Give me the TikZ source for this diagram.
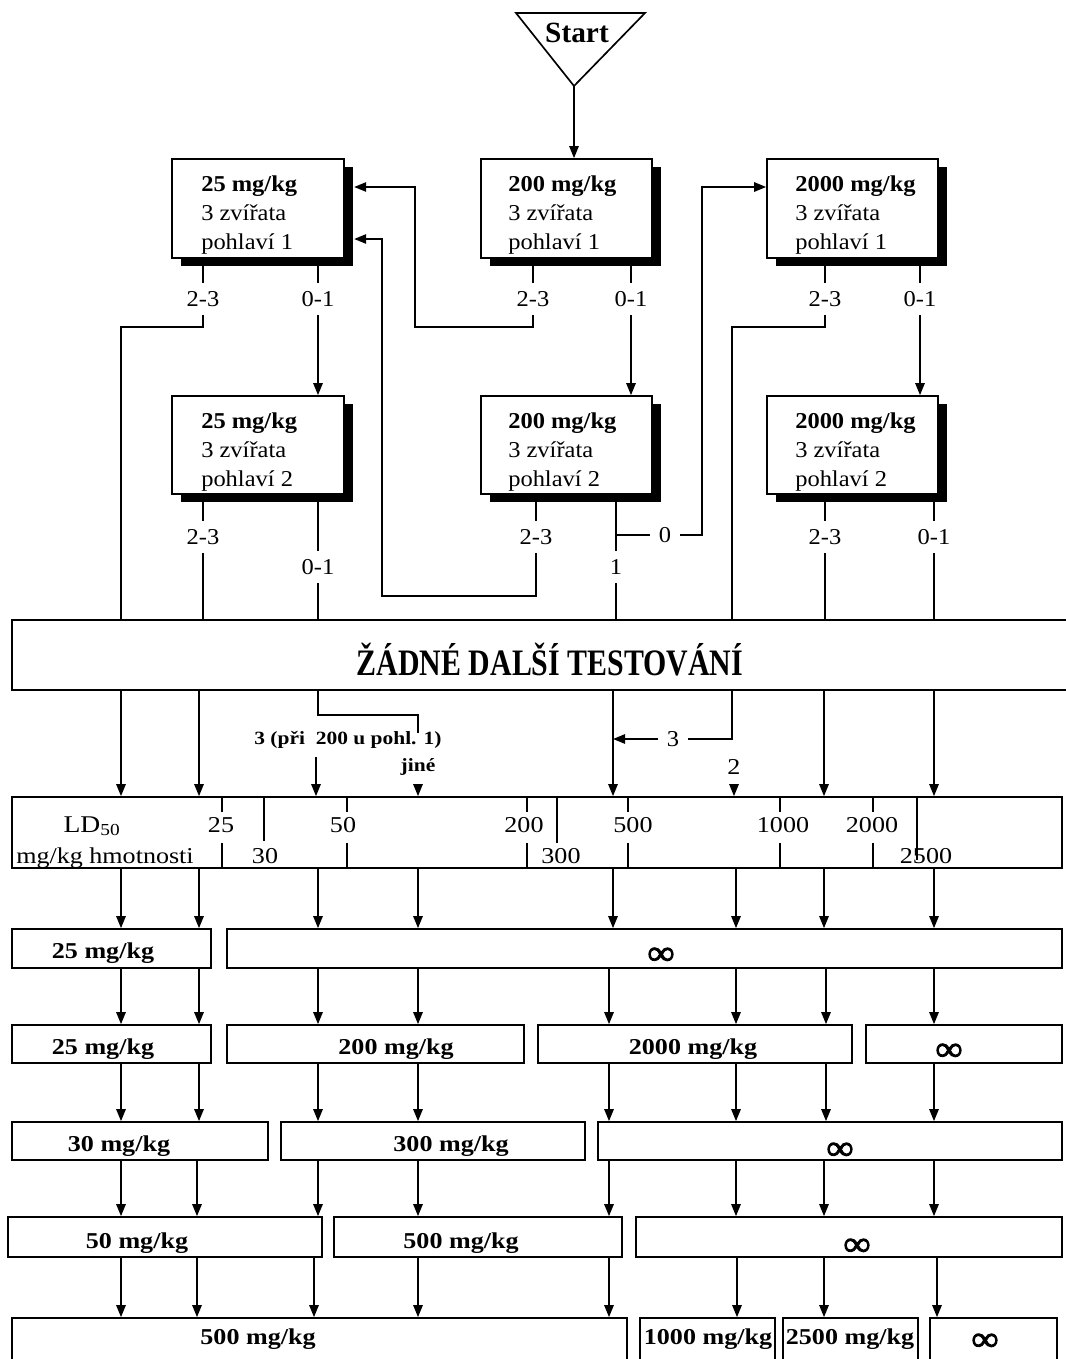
\documentclass[tikz,border=0pt]{standalone}
\usepackage{fontspec}
\setmainfont{Liberation Serif}
\newfontfamily\bxf[FakeStretch=1.15]{Liberation Serif}
\newfontfamily\bxg[FakeStretch=1.08]{Liberation Serif}
\newfontfamily\ttlf[FakeStretch=0.8]{Liberation Serif}
\newfontfamily\inff[FakeBold=2.5,FakeStretch=1.1]{Liberation Serif}
\usetikzlibrary{arrows.meta,fit,shadows}
\newcommand\threelines[5]{%
  \node[btxt] (#1x) at (#2,#3) {\bfseries #4};
  \node[btxt] (#1y) at (#2,#3+29) {3 zvířata};
  \node[btxt] (#1z) at (#2,#3+58) {#5};}
\begin{document}
\begin{tikzpicture}[x=0.75pt,y=-0.75pt,
  ln/.style={line width=1.25pt},
  arr/.style={ln,-{Triangle[length=9pt,width=7pt]}},
  sbox/.style={draw,ln,fill=white,inner sep=0pt,
    drop shadow={shadow xshift=6.75pt,shadow yshift=-6pt,fill=black,opacity=1}},
  rbox/.style={draw,ln,inner sep=0pt},
  btxt/.style={font=\bxg\fontsize{17}{19}\selectfont,inner sep=0pt,anchor=base west},
  lbl/.style={font=\bxg\fontsize{17}{19}\selectfont,text height=11pt,text depth=0pt,inner xsep=1pt,inner ysep=6.5pt},
  htxt/.style={font=\bxg\fontsize{17}{19}\selectfont,text height=11pt,text depth=0pt,inner xsep=6.5pt,inner ysep=1pt},
  rtxt/.style={font=\bxf\bfseries\fontsize{17}{20}\selectfont,text height=12pt,text depth=3pt,inner sep=0pt},
  inf/.style={font=\inff\fontsize{26}{28}\selectfont,inner sep=0pt},
  ldt/.style={font=\bxf\fontsize{17}{20}\selectfont,text height=12pt,text depth=3pt,inner sep=0pt},
  smb/.style={font=\bxf\bfseries\fontsize{14}{16}\selectfont,inner sep=1pt}]
\path[use as bounding box,fill=white] (0,0) rectangle (1065,1359);

% Start
\coordinate (S) at (574,86);
\draw[ln,line join=miter] (516,13) -- (645,13) -- (S) -- cycle;
\node[font=\bfseries\fontsize{22}{24}\selectfont,inner sep=0pt] (st) at (577,33) {Start};

% shadow boxes
\node[sbox,fit={(172,159) (344,258)}] (A1) {};
\node[sbox,fit={(481,159) (652,258)}] (B1) {};
\node[sbox,fit={(767,159) (938,258)}] (C1) {};
\node[sbox,fit={(172,396) (344,494)}] (A2) {};
\node[sbox,fit={(481,396) (652,494)}] (B2) {};
\node[sbox,fit={(767,396) (938,494)}] (C2) {};
\threelines{ta1}{201}{191}{25 mg/kg}{pohlaví 1}
\threelines{tb1}{508}{191}{200 mg/kg}{pohlaví 1}
\threelines{tc1}{795}{191}{2000 mg/kg}{pohlaví 1}
\threelines{ta2}{201}{428}{25 mg/kg}{pohlaví 2}
\threelines{tb2}{508}{428}{200 mg/kg}{pohlaví 2}
\threelines{tc2}{795}{428}{2000 mg/kg}{pohlaví 2}

\draw[arr] (S) -- (S |- B1.north);

% big box
\node[rbox,fit={(12,620) (1085,690)}] (Z) {};
\node[font=\ttlf\bfseries\fontsize{28}{30}\selectfont,inner sep=0pt] (zt) at (550,660) {ŽÁDNÉ DALŠÍ TESTOVÁNÍ};

% labels top row
\node[lbl] (a1l) at (203,299) {2-3};
\node[lbl] (a1r) at (318,299) {0-1};
\node[lbl] (b1l) at (533,299) {2-3};
\node[lbl] (b1r) at (631,299) {0-1};
\node[lbl] (c1l) at (825,299) {2-3};
\node[lbl] (c1r) at (920,299) {0-1};
% labels second row
\node[lbl] (a2l) at (203,537) {2-3};
\node[lbl] (a2r) at (318,567) {0-1};
\node[lbl] (b2l) at (536,537) {2-3};
\node[lbl] (b2o) at (616,567) {1};
\node[htxt] (b2z) at (665,535) {0};
\node[lbl] (c2l) at (825,537) {2-3};
\node[lbl] (c2r) at (934,537) {0-1};

% A1
\draw[ln] (203,0 |- A1.south) -- (a1l.north);
\draw[ln] (a1l.south) |- (121,327) -- (121,0 |- Z.north);
\draw[ln] (318,0 |- A1.south) -- (a1r.north);
\draw[arr] (a1r.south) -- (318,0 |- A2.north);
% B1
\draw[ln] (533,0 |- B1.south) -- (b1l.north);
\draw[arr] (b1l.south) |- (415,327) -- (415,187) -- ([xshift=7pt]A1.east |- 415,187);
\draw[ln] (631,0 |- B1.south) -- (b1r.north);
\draw[arr] (b1r.south) -- (631,0 |- B2.north);
% C1
\draw[ln] (825,0 |- C1.south) -- (c1l.north);
\draw[ln] (c1l.south) |- (732,327) -- (732,0 |- Z.north);
\draw[ln] (920,0 |- C1.south) -- (c1r.north);
\draw[arr] (c1r.south) -- (920,0 |- C2.north);
% A2
\draw[ln] (203,0 |- A2.south) -- (a2l.north);
\draw[ln] (a2l.south) -- (203,0 |- Z.north);
\draw[ln] (318,0 |- A2.south) -- (a2r.north);
\draw[ln] (a2r.south) -- (318,0 |- Z.north);
% B2
\draw[ln] (536,0 |- B2.south) -- (b2l.north);
\draw[arr] (b2l.south) |- (382,596) -- (382,239) -- ([xshift=7pt]A1.east |- 382,239);
\draw[ln] (616,0 |- B2.south) -- (b2o.north);
\draw[ln] (616,535) -- (b2z.west);
\draw[arr] (b2z.east) -| (702,187) -- (C1.west |- 702,187);
\draw[ln] (b2o.south) -- (616,0 |- Z.north);
% C2
\draw[ln] (825,0 |- C2.south) -- (c2l.north);
\draw[ln] (c2l.south) -- (825,0 |- Z.north);
\draw[ln] (934,0 |- C2.south) -- (c2r.north);
\draw[ln] (c2r.south) -- (934,0 |- Z.north);

% LD50 box
\node[rbox,fit={(12,797) (1062,868)}] (LD) {};
\node[ldt,font=\bxf\fontsize{18}{20}\selectfont] (ld1) at (92,826) {LD\textsubscript{50}};
\node[ldt] (ld2) at (105,857) {mg/kg hmotnosti};
\foreach \x in {222,347,527,628,780,873}{
  \draw[ln] (\x,797) -- (\x,812);
  \draw[ln] (\x,843) -- (\x,868);
}
\node[ldt] (k25) at (221,826) {25};
\node[ldt] (k50) at (343,826) {50};
\node[ldt] (k200) at (524,826) {200};
\node[ldt] (k500) at (633,826) {500};
\node[ldt] (k1000) at (783,826) {1000};
\node[ldt] (k2000) at (872,826) {2000};
\draw[ln] (264,797) -- (264,841);
\draw[ln] (557,797) -- (557,843);
\draw[ln] (917,797) -- (917,860);
\node[ldt] (k30) at (265,857) {30};
\node[ldt] (k300) at (561,857) {300};
\node[ldt] (k2500) at (926,857) {2500};

% below big box
\draw[arr] (121,0 |- Z.south) -- (121,0 |- LD.north);
\draw[arr] (199,0 |- Z.south) -- (199,0 |- LD.north);
\draw[ln] (318,0 |- Z.south) |- (418,715) -- (418,733);
\node[smb] (p3) at (348,740) {3 (při~ 200 u pohl. 1)};
\draw[arr] (316,757) -- (316,0 |- LD.north);
\node[smb] (jn) at (418,767) {jiné};
\draw[arr] (418,785) -- (418,0 |- LD.north);
\draw[arr] (613,0 |- Z.south) -- (613,0 |- LD.north);
\node[htxt] (t3) at (673,739) {3};
\draw[ln] (732,0 |- Z.south) -- (732,739) -- (t3.east);
\draw[arr] (t3.west) -- (613,0 |- t3.west);
\node[ldt] (t2) at (734,768) {2};
\draw[arr] (734,785) -- (734,0 |- LD.north);
\draw[arr] (824,0 |- Z.south) -- (824,0 |- LD.north);
\draw[arr] (934,0 |- Z.south) -- (934,0 |- LD.north);

% rows
\node[rbox,fit={(12,929) (211,968)}] (r1a) {};
\node[rbox,fit={(227,929) (1062,968)}] (r1b) {};
\node[rbox,fit={(12,1025) (211,1063)}] (r2a) {};
\node[rbox,fit={(227,1025) (524,1063)}] (r2b) {};
\node[rbox,fit={(538,1025) (852,1063)}] (r2c) {};
\node[rbox,fit={(866,1025) (1062,1063)}] (r2d) {};
\node[rbox,fit={(12,1122) (268,1160)}] (r3a) {};
\node[rbox,fit={(281,1122) (585,1160)}] (r3b) {};
\node[rbox,fit={(598,1122) (1062,1160)}] (r3c) {};
\node[rbox,fit={(8,1217) (322,1257)}] (r4a) {};
\node[rbox,fit={(334,1217) (622,1257)}] (r4b) {};
\node[rbox,fit={(636,1217) (1062,1257)}] (r4c) {};
\node[rbox,fit={(12,1318) (627,1380)}] (r5a) {};
\node[rbox,fit={(640,1318) (775,1380)}] (r5b) {};
\node[rbox,fit={(783,1318) (918,1380)}] (r5c) {};
\node[rbox,fit={(930,1318) (1057,1380)}] (r5d) {};

\node[rtxt] (x1a) at (103,952) {25 mg/kg};
\node[inf] (x1b) at (661,956) {∞};
\node[rtxt] (x2a) at (103,1048) {25 mg/kg};
\node[rtxt] (x2b) at (396,1048) {200 mg/kg};
\node[rtxt] (x2c) at (693,1048) {2000 mg/kg};
\node[inf] (x2d) at (949,1052) {∞};
\node[rtxt] (x3a) at (119,1145) {30 mg/kg};
\node[rtxt] (x3b) at (451,1145) {300 mg/kg};
\node[inf] (x3c) at (840,1151) {∞};
\node[rtxt] (x4a) at (137,1242) {50 mg/kg};
\node[rtxt] (x4b) at (461,1242) {500 mg/kg};
\node[inf] (x4c) at (857,1247) {∞};
\node[rtxt] (x5a) at (258,1338) {500 mg/kg};
\node[rtxt] (x5b) at (708,1338) {1000 mg/kg};
\node[rtxt] (x5c) at (850,1338) {2500 mg/kg};
\node[inf] (x5d) at (985,1342) {∞};

\foreach \x in {121,199,318,418,613,736,824,934}
  \draw[arr] (\x,0 |- LD.south) -- (\x,0 |- r1a.north);
\foreach \x in {121,199,318,418,609,736,826,934}
  \draw[arr] (\x,0 |- r1a.south) -- (\x,0 |- r2a.north);
\foreach \x in {121,199,318,418,609,736,826,934}
  \draw[arr] (\x,0 |- r2a.south) -- (\x,0 |- r3a.north);
\foreach \x in {121,197,318,418,609,736,824,934}
  \draw[arr] (\x,0 |- r3a.south) -- (\x,0 |- r4a.north);
\foreach \x in {121,197,314,418,609,737,824,937}
  \draw[arr] (\x,0 |- r4a.south) -- (\x,0 |- r5a.north);
\end{tikzpicture}
\end{document}
